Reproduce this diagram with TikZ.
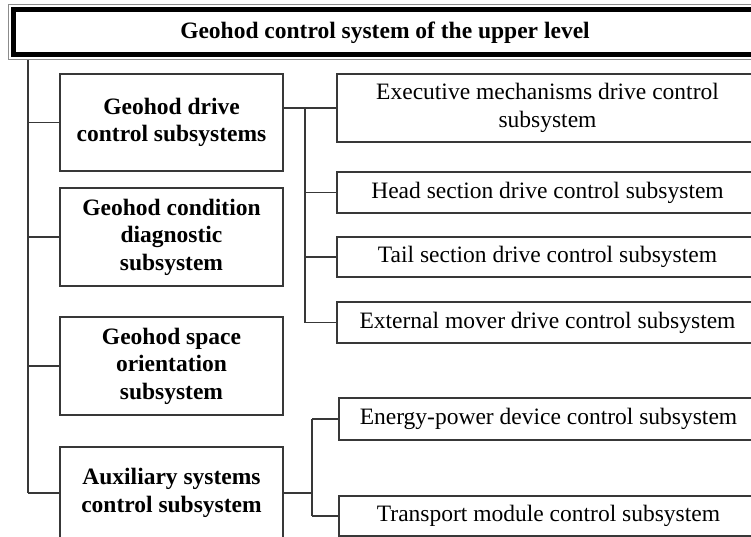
\documentclass[tikz,border=0pt]{standalone}
\usepackage{fontspec}
\setmainfont{Liberation Serif}
\begin{document}
\begin{tikzpicture}[x=1pt,y=-1pt,
  box/.style={draw=black!78, line width=1.5pt, rectangle, inner sep=0pt, align=center,
    font=\fontsize{23.5}{27.5}\selectfont},
  lbox/.style={box, font=\bfseries\fontsize{23.5}{27.5}\selectfont, minimum width=223pt},
  rbox/.style={box, minimum width=421pt},
  conn/.style={draw=black!78, line width=1.5pt}]
\useasboundingbox (0,0) rectangle (751,537);
\clip (0,0) rectangle (751,537);
% top box
\draw[black!45, line width=1pt] (8,5) rectangle (760,60);
\node[draw=black, line width=5pt, minimum width=743pt, minimum height=45pt, inner sep=0pt,
  font=\bfseries\fontsize{23.5}{27.5}\selectfont] (top) at (385,32.5) {Geohod control system of the upper level};
% left boxes
\node[lbox, minimum height=97pt] (b1) at (171.5,122.5) {Geohod drive\\control subsystems};
\node[lbox, minimum height=98pt] (b2) at (171.5,237) {Geohod condition\\diagnostic\\subsystem};
\node[lbox, minimum height=98pt] (b3) at (171.5,366) {Geohod space\\orientation\\subsystem};
\node[lbox, minimum height=92pt] (b4) at (171.5,493) {Auxiliary systems\\control subsystem};
% right boxes
\node[rbox, minimum height=68pt] (r1) at (547.5,108) {Executive mechanisms drive control\\subsystem};
\node[rbox, minimum height=41pt] (r2) at (547.5,192.5) {Head section drive control subsystem};
\node[rbox, minimum height=40pt] (r3) at (547.5,257) {Tail section drive control subsystem};
\node[rbox, minimum height=41pt] (r4) at (547.5,322.5) {External mover drive control subsystem};
\node[rbox, minimum width=419pt, minimum height=42pt] (r5) at (548.5,419) {Energy-power device control subsystem};
\node[rbox, minimum width=419pt, minimum height=40pt] (r6) at (548.5,516) {Transport module control subsystem};
% spine
\coordinate (sp) at (28,60);
\draw[conn] (sp) -- (sp |- b4.west);
\foreach \b in {b1,b2,b3,b4} \draw[conn] (sp |- \b.west) -- (\b.west);
% group 1
\coordinate (j1) at (305,0);
\draw[conn] (b1.east |- r1.west) -- (j1 |- r1.west) -- (j1 |- r4.west);
\foreach \r in {r1,r2,r3,r4} \draw[conn] (j1 |- \r.west) -- (\r.west);
% group 2
\coordinate (j2) at (312,0);
\draw[conn] (b4.east) -- (j2 |- b4.east);
\draw[conn] (j2 |- r5.west) -- (j2 |- r6.west);
\foreach \r in {r5,r6} \draw[conn] (j2 |- \r.west) -- (\r.west);
\end{tikzpicture}
\end{document}
